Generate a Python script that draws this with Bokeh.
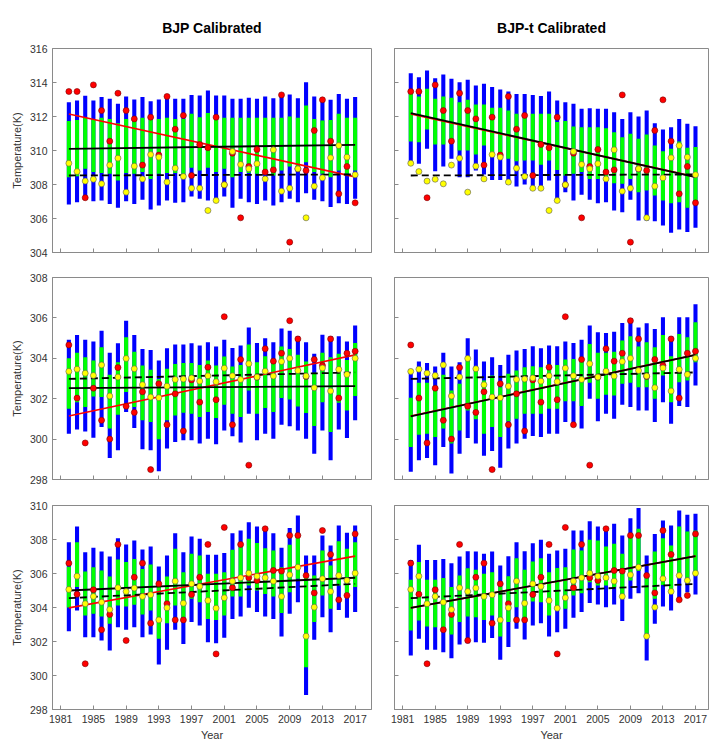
from bokeh.plotting import figure
from bokeh.layouts import column, row
from bokeh.models import FixedTicker
from bokeh.embed import file_html
from bokeh.resources import INLINE

years = list(range(1982, 2018))
x_ticks = [1981, 1985, 1989, 1993, 1997, 2001, 2005, 2009, 2013, 2017]
trend_years = [1982, 2017]

# ---------------- Row 1 ----------------
obs_r1 = [313.47, 313.47, 307.22, 313.86, 312.35, 310.55, 313.37, 312.35, 311.86, 309.14, 311.96, 309.73,
          313.18, 311.25, 312.06, 308.53, 310.35, 310.16, 311.96, 307.98, 309.84, 306.04, 309.06, 310.06,
          308.73, 308.86, 313.27, 304.61, 308.92, 308.82, 311.18, 312.98, 310.55, 307.45, 309.06, 306.92]
raw_r1 = [309.25, 308.76, 308.20, 308.31, 308.04, 309.14, 309.55, 307.55, 309.08, 308.33, 309.76, 309.61,
          308.14, 308.96, 308.47, 307.78, 307.78, 306.47, 307.06, 307.98, 309.94, 309.18, 308.92, 309.22,
          308.33, 310.04, 307.61, 307.78, 308.92, 306.04, 307.90, 308.39, 309.57, 310.29, 309.61, 308.57]
bjp_r1_q95 = [312.84, 312.94, 313.22, 312.94, 313.14, 313.04, 312.75, 313.18, 313.00, 313.14, 312.90, 313.00,
              313.18, 313.04, 313.04, 313.27, 313.24, 313.53, 313.24, 313.24, 313.04, 313.04, 313.10, 313.04,
              313.18, 313.08, 313.18, 313.29, 313.08, 314.02, 313.18, 313.04, 312.98, 313.33, 313.04, 313.14]
bjp_r1_q75 = [311.73, 311.80, 311.92, 311.86, 311.92, 311.86, 311.61, 311.86, 311.92, 311.92, 311.80, 311.86,
              311.92, 311.86, 311.86, 312.16, 311.96, 312.20, 311.92, 311.92, 311.92, 311.92, 311.92, 311.92,
              311.92, 311.92, 311.92, 312.00, 311.92, 312.65, 311.86, 311.76, 311.80, 312.16, 311.92, 311.92]
bjp_r1_q25 = [308.43, 308.49, 308.92, 308.73, 308.67, 308.63, 308.24, 308.67, 308.63, 308.73, 308.33, 308.63,
              308.67, 308.67, 308.63, 308.98, 308.82, 308.98, 308.73, 308.92, 308.43, 308.73, 308.67, 308.63,
              308.73, 308.53, 308.82, 309.06, 308.73, 309.31, 308.73, 308.63, 308.43, 308.82, 308.63, 308.82]
bjp_r1_q05 = [306.82, 306.96, 307.10, 307.02, 307.06, 306.86, 306.63, 307.02, 306.86, 307.10, 306.53, 306.76,
              307.06, 306.92, 306.96, 307.29, 307.16, 307.06, 307.06, 307.29, 306.63, 307.16, 306.96, 306.86,
              307.06, 306.76, 306.96, 307.16, 306.96, 307.49, 307.10, 307.02, 306.67, 306.90, 306.86, 307.16]
bjpt_r1_q95 = [314.55, 314.31, 314.71, 314.25, 314.47, 314.22, 314.02, 314.16, 313.82, 313.92, 313.73, 313.59,
               313.47, 313.33, 313.33, 313.27, 313.20, 313.47, 312.94, 312.84, 312.75, 312.45, 312.49, 312.45,
               312.45, 312.25, 311.86, 312.25, 312.00, 312.35, 311.61, 311.24, 311.37, 311.86, 311.57, 311.43]
bjpt_r1_q75 = [313.33, 313.18, 313.63, 313.04, 313.18, 313.10, 312.84, 312.98, 312.71, 312.71, 312.51, 312.51,
               312.35, 312.16, 312.16, 312.16, 312.16, 312.16, 311.67, 311.73, 311.41, 311.37, 311.37, 311.37,
               311.31, 311.08, 310.78, 310.98, 310.69, 310.94, 310.29, 309.96, 310.10, 310.53, 310.16, 310.20]
bjpt_r1_q25 = [310.53, 310.49, 311.24, 310.35, 310.35, 310.59, 310.00, 310.00, 309.76, 310.29, 309.90, 309.76,
               309.51, 309.37, 309.41, 309.41, 309.16, 309.41, 308.86, 308.53, 308.63, 308.73, 308.33, 308.33,
               308.43, 308.08, 308.04, 308.33, 307.55, 307.65, 307.35, 307.06, 306.90, 306.96, 306.63, 306.90]
bjpt_r1_q05 = [309.22, 309.22, 310.10, 308.78, 309.06, 309.51, 308.43, 308.43, 308.82, 308.59, 308.27, 308.27,
               308.00, 307.88, 308.00, 307.84, 307.84, 308.24, 307.16, 307.55, 307.06, 307.39, 307.10, 306.90,
               306.96, 306.47, 306.37, 307.10, 305.88, 305.88, 305.84, 305.59, 305.16, 305.35, 305.20, 305.45]
trend_obs_r1 = [312.15, 308.45]
trend_bjp_r1 = [310.10, 310.33]
trend_bjpt_r1 = [312.20, 308.43]
trend_raw_r1 = [308.53, 308.59]

# ---------------- Row 2 ----------------
obs_r2 = [304.66, 302.03, 299.81, 302.52, 300.93, 300.00, 303.54, 301.63, 301.32, 302.34, 298.49, 302.74,
          300.71, 302.24, 300.40, 302.93, 301.83, 303.56, 301.95, 306.06, 300.71, 303.94, 298.71, 303.07,
          304.47, 303.86, 304.25, 305.86, 304.96, 303.10, 303.94, 303.64, 304.96, 302.03, 304.25, 304.35]
raw_r2 = [303.35, 303.46, 303.26, 303.15, 303.67, 302.13, 303.07, 303.99, 303.48, 302.69, 302.08, 302.05,
          302.62, 302.95, 302.97, 303.03, 302.87, 303.13, 302.84, 303.51, 303.13, 302.95, 303.73, 303.07,
          303.36, 303.12, 303.84, 304.00, 303.39, 303.12, 302.54, 303.52, 302.38, 303.45, 303.20, 304.00]
bjp_r2_q95 = [304.92, 305.15, 304.92, 304.83, 305.37, 304.27, 304.74, 305.86, 305.15, 304.46, 304.41, 303.89,
              304.50, 304.68, 304.68, 304.74, 304.63, 304.79, 304.58, 304.92, 304.51, 304.63, 305.53, 304.76,
              304.99, 304.79, 305.48, 305.37, 305.09, 304.79, 304.22, 305.17, 305.09, 305.09, 304.83, 305.62]
bjp_r2_q75 = [304.00, 304.27, 304.05, 303.89, 304.55, 303.18, 303.81, 305.04, 304.33, 303.64, 303.43, 302.98,
              303.48, 303.72, 303.77, 303.77, 303.67, 303.89, 303.64, 304.09, 303.59, 303.67, 304.68, 303.81,
              304.10, 303.84, 304.58, 304.46, 304.17, 303.84, 303.28, 304.27, 304.05, 304.22, 303.92, 304.76]
bjp_r2_q25 = [301.50, 301.83, 301.59, 302.11, 302.08, 300.52, 301.21, 302.33, 301.59, 300.93, 300.85, 299.99,
              300.93, 301.17, 301.30, 301.26, 301.09, 301.34, 301.04, 301.70, 301.26, 301.09, 302.41, 301.26,
              301.54, 301.34, 302.03, 301.96, 301.62, 301.29, 300.65, 301.83, 300.35, 301.80, 301.42, 302.13]
bjp_r2_q05 = [300.27, 300.48, 300.38, 300.07, 300.60, 299.07, 299.45, 301.34, 300.55, 299.50, 299.45, 298.41,
              299.53, 299.86, 299.94, 299.94, 299.78, 300.02, 299.74, 300.43, 300.14, 299.83, 301.26, 299.94,
              300.27, 300.02, 300.71, 300.63, 300.43, 300.02, 299.28, 300.43, 298.95, 300.48, 300.06, 300.93]
bjpt_r2_q95 = [303.31, 303.84, 303.77, 303.59, 304.27, 303.59, 303.81, 304.99, 304.43, 303.84, 304.05, 303.67,
               304.17, 304.38, 304.46, 304.60, 304.50, 304.63, 304.60, 304.83, 304.76, 304.92, 305.62, 305.29,
               305.25, 305.32, 305.75, 305.99, 305.53, 305.73, 305.45, 306.03, 305.09, 306.03, 306.03, 306.68]
bjpt_r2_q75 = [302.05, 302.79, 302.79, 302.57, 303.18, 302.41, 302.74, 304.00, 303.48, 302.90, 303.15, 302.57,
               303.23, 303.39, 303.56, 303.61, 303.56, 303.71, 303.67, 303.94, 303.97, 303.97, 304.71, 304.27,
               304.27, 304.33, 304.88, 305.09, 304.58, 304.79, 304.55, 305.15, 304.10, 305.20, 305.04, 305.78]
bjpt_r2_q25 = [299.61, 300.22, 300.27, 300.11, 300.52, 299.78, 300.43, 301.42, 300.98, 300.27, 300.60, 300.11,
               300.88, 301.01, 301.26, 301.26, 301.26, 301.50, 301.50, 301.87, 301.87, 301.64, 302.79, 302.00,
               302.19, 302.16, 302.74, 302.79, 302.57, 302.57, 302.00, 303.15, 301.83, 302.82, 302.90, 303.81]
bjpt_r2_q05 = [298.38, 298.95, 299.07, 298.71, 299.61, 298.30, 299.28, 300.06, 299.78, 299.17, 299.41, 298.58,
               299.53, 299.78, 300.02, 300.15, 300.11, 300.27, 300.27, 300.85, 300.71, 300.52, 302.00, 300.88,
               301.26, 301.01, 301.70, 301.59, 301.42, 301.42, 300.85, 301.83, 300.76, 301.64, 301.59, 302.65]
trend_obs_r2 = [301.14, 304.17]
trend_bjp_r2 = [302.52, 302.62]
trend_bjpt_r2 = [301.13, 304.17]
trend_raw_r2 = [302.98, 303.30]

# ---------------- Row 3 ----------------
obs_r3 = [306.61, 304.78, 300.69, 305.04, 302.69, 303.59, 307.71, 302.06, 305.78, 306.61, 303.08, 305.39,
          304.22, 303.27, 303.27, 304.76, 305.78, 307.71, 301.27, 308.71, 305.16, 307.71, 305.75, 305.59,
          308.63, 306.18, 306.14, 308.24, 308.24, 305.88, 304.86, 308.53, 307.12, 304.45, 304.71, 308.33]
raw_r3 = [305.06, 305.84, 304.22, 304.65, 304.31, 303.88, 305.16, 304.94, 305.14, 304.65, 304.75, 303.27,
          303.98, 305.55, 304.25, 305.39, 305.24, 304.41, 303.96, 304.57, 305.55, 305.75, 306.02, 305.84,
          305.75, 305.55, 304.65, 305.92, 306.37, 302.31, 304.02, 305.69, 304.94, 305.88, 305.59, 306.02]
bjp_r3_q95 = [307.84, 308.76, 307.25, 307.51, 307.29, 307.00, 308.08, 307.71, 307.94, 307.41, 307.59, 306.41,
              307.06, 308.37, 307.25, 308.18, 308.04, 307.10, 307.10, 307.20, 308.37, 308.53, 309.02, 308.76,
              308.69, 308.37, 307.51, 308.67, 309.41, 307.06, 307.06, 308.24, 307.65, 308.82, 308.39, 308.82]
bjp_r3_q75 = [306.40, 307.84, 306.12, 306.37, 306.18, 305.82, 306.82, 306.67, 306.86, 306.27, 306.53, 305.29,
              305.82, 307.45, 306.08, 307.16, 307.06, 305.98, 305.98, 306.08, 307.39, 307.55, 308.04, 307.80,
              307.49, 307.35, 306.37, 307.69, 308.33, 305.82, 305.88, 307.35, 306.47, 307.90, 307.45, 307.84]
bjp_r3_q25 = [304.00, 305.20, 303.53, 303.63, 303.47, 303.04, 304.12, 304.06, 304.16, 303.59, 303.82, 302.16,
              303.08, 304.12, 303.43, 304.51, 304.31, 303.33, 303.27, 303.53, 304.65, 304.65, 305.29, 305.00,
              304.80, 304.65, 303.67, 304.90, 305.69, 300.49, 303.14, 304.71, 303.92, 305.29, 304.71, 305.20]
bjp_r3_q05 = [302.60, 303.82, 302.25, 302.25, 302.06, 301.47, 302.84, 302.69, 302.84, 302.25, 302.41, 300.65,
              301.51, 302.69, 301.86, 303.14, 302.94, 301.96, 301.90, 302.22, 303.33, 303.47, 303.98, 303.73,
              303.47, 303.33, 302.29, 303.63, 304.31, 298.86, 302.10, 303.43, 302.55, 303.86, 303.39, 303.73]
bjpt_r3_q95 = [306.80, 307.69, 306.80, 306.80, 306.86, 306.61, 307.00, 307.31, 307.29, 307.16, 307.29, 306.47,
               307.02, 307.84, 307.31, 307.78, 307.98, 307.16, 307.35, 307.45, 308.53, 308.53, 309.08, 308.76,
               308.63, 308.92, 308.24, 309.25, 309.86, 307.06, 308.33, 309.12, 308.82, 309.71, 309.45, 309.51]
bjpt_r3_q75 = [305.63, 306.67, 305.63, 305.63, 305.73, 305.20, 305.88, 306.31, 306.22, 305.98, 306.08, 305.24,
               305.84, 306.90, 306.22, 306.71, 306.90, 306.08, 306.33, 306.37, 307.41, 307.35, 307.98, 307.94,
               307.59, 307.75, 307.16, 308.27, 308.63, 306.02, 307.29, 308.08, 307.65, 308.76, 308.47, 308.53]
bjpt_r3_q25 = [302.65, 303.24, 302.88, 302.84, 302.69, 302.41, 303.14, 303.47, 303.43, 303.27, 303.53, 302.29,
               303.14, 304.02, 303.33, 304.35, 304.31, 303.53, 303.92, 303.92, 304.71, 304.84, 305.49, 305.29,
               305.29, 305.20, 304.51, 305.59, 306.14, 302.45, 304.51, 305.33, 305.00, 305.98, 305.75, 305.88]
bjpt_r3_q05 = [301.18, 302.16, 301.51, 301.51, 301.37, 301.02, 301.82, 301.90, 301.96, 301.92, 302.20, 300.92,
               301.67, 302.75, 302.12, 302.94, 303.08, 302.29, 302.55, 302.75, 303.39, 303.73, 304.27, 304.18,
               304.02, 304.18, 303.20, 304.51, 304.84, 300.88, 303.04, 304.06, 303.82, 304.49, 304.90, 304.76]
trend_obs_r3 = [303.98, 307.02]
trend_bjp_r3 = [305.00, 305.75]
trend_bjpt_r3 = [303.98, 307.02]
trend_raw_r3 = [304.55, 305.39]

y_ranges = [(304, 316), (298, 308), (298, 310)]
y_ticks = [[304, 306, 308, 310, 312, 314, 316],
           [298, 300, 302, 304, 306, 308],
           [298, 300, 302, 304, 306, 308, 310]]
titles = ["BJP Calibrated", "BJP-t Calibrated"]

FONT = "Liberation Sans"
AXC = "#8a8a8a"
TXT = "#333333"


def hide_labels(ax):
    # keep the tick marks but draw no tick labels
    ax.major_label_text_font_size = "1px"
    ax.major_label_text_alpha = 0
    ax.major_label_standoff = 0


def panel(r, c, q05, q25, q75, q95, obs, raw, t_obs, t_ens, t_raw):
    left = c == 0
    bottom = r == 2
    fw = 319 if left else 314
    fh = 202 if r == 1 else 204
    mb_top = [48, 13, 14][r]
    mb_bot = [12, 12, 36][r]
    p = figure(frame_width=fw, frame_height=fh,
               x_range=(1980, 2019) if left else (1980, 2018.6),
               y_range=y_ranges[r],
               output_backend="svg", toolbar_location=None,
               min_border_left=52 if left else 13,
               min_border_right=10 if left else 1,
               min_border_top=mb_top, min_border_bottom=mb_bot,
               background_fill_color="white", border_fill_color="white")
    p.outline_line_color = AXC
    p.outline_line_width = 1
    p.xgrid.visible = False
    p.ygrid.visible = False
    if r == 0:
        p.title.text = titles[c]
        p.title.align = "center"
        p.title.text_font = FONT
        p.title.text_font_size = "14px"
        p.title.text_font_style = "bold"
        p.title.text_color = "black"
        p.title.standoff = 25
    for ax in (p.xaxis[0], p.yaxis[0]):
        ax.axis_line_color = AXC
        ax.major_tick_line_color = AXC
        ax.major_tick_in = 4
        ax.major_tick_out = 0
        ax.minor_tick_in = 0
        ax.minor_tick_out = 0
        ax.major_label_text_font = FONT
        ax.major_label_text_font_size = "10.5px"
        ax.major_label_text_color = TXT
        ax.major_label_standoff = 5
        ax.axis_label_text_font = FONT
        ax.axis_label_text_font_size = "11px"
        ax.axis_label_text_font_style = "normal"
        ax.axis_label_text_color = TXT
    p.xaxis.ticker = FixedTicker(ticks=x_ticks)
    p.yaxis.ticker = FixedTicker(ticks=y_ticks[r])
    if bottom:
        p.xaxis.axis_label = "Year"
        p.xaxis.axis_label_standoff = 3
    else:
        hide_labels(p.xaxis[0])
    if left:
        p.yaxis.axis_label = "Temperature(K)"
        p.yaxis.axis_label_standoff = 4
    else:
        hide_labels(p.yaxis[0])

    p.vbar(x=years, bottom=q05, top=q95, width=0.5, fill_color="#0000FF", line_color=None)
    p.vbar(x=years, bottom=q25, top=q75, width=0.5, fill_color="#00FF00", line_color=None)
    p.line(trend_years, t_obs, line_color="#FF0000", line_width=1.6)
    p.line(trend_years, t_ens, line_color="black", line_width=1.8)
    p.line(trend_years, t_raw, line_color="black", line_width=1.8, line_dash="7 4")
    p.scatter(years, obs, marker="circle", size=6, fill_color="#FF0000",
              line_color="#7a0000", line_width=0.6)
    p.scatter(years, raw, marker="circle", size=6, fill_color="#FFFF00",
              line_color="#5a5a5a", line_width=0.6)
    return p


p11 = panel(0, 0, bjp_r1_q05, bjp_r1_q25, bjp_r1_q75, bjp_r1_q95, obs_r1, raw_r1,
            trend_obs_r1, trend_bjp_r1, trend_raw_r1)
p12 = panel(0, 1, bjpt_r1_q05, bjpt_r1_q25, bjpt_r1_q75, bjpt_r1_q95, obs_r1, raw_r1,
            trend_obs_r1, trend_bjpt_r1, trend_raw_r1)
p21 = panel(1, 0, bjp_r2_q05, bjp_r2_q25, bjp_r2_q75, bjp_r2_q95, obs_r2, raw_r2,
            trend_obs_r2, trend_bjp_r2, trend_raw_r2)
p22 = panel(1, 1, bjpt_r2_q05, bjpt_r2_q25, bjpt_r2_q75, bjpt_r2_q95, obs_r2, raw_r2,
            trend_obs_r2, trend_bjpt_r2, trend_raw_r2)
p31 = panel(2, 0, bjp_r3_q05, bjp_r3_q25, bjp_r3_q75, bjp_r3_q95, obs_r3, raw_r3,
            trend_obs_r3, trend_bjp_r3, trend_raw_r3)
p32 = panel(2, 1, bjpt_r3_q05, bjpt_r3_q25, bjpt_r3_q75, bjpt_r3_q95, obs_r3, raw_r3,
            trend_obs_r3, trend_bjpt_r3, trend_raw_r3)

layout = column(row(p11, p12), row(p21, p22), row(p31, p32))
open("out.html", "w").write(file_html(layout, INLINE))
